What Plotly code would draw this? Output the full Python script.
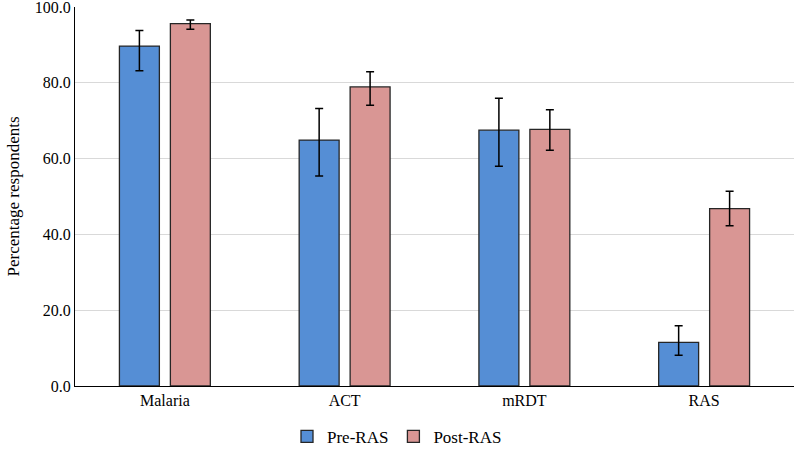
import plotly.graph_objects as go

categories = ["Malaria", "ACT", "mRDT", "RAS"]
pre_values = [89.7, 64.9, 67.5, 11.5]
pre_upper = [93.8, 73.2, 75.9, 15.9]
pre_lower = [83.2, 55.4, 58.0, 8.1]
post_values = [95.6, 78.9, 67.7, 46.8]
post_upper = [96.6, 82.9, 72.9, 51.4]
post_lower = [94.1, 74.1, 62.2, 42.3]
y_ticks = [0, 20, 40, 60, 80, 100]
y_tick_labels = ["0.0", "20.0", "40.0", "60.0", "80.0", "100.0"]

def err(vals, up, lo):
    return dict(
        type="data", symmetric=False,
        array=[u - v for u, v in zip(up, vals)],
        arrayminus=[v - l for v, l in zip(vals, lo)],
        color="black", thickness=1.5, width=4,
    )

fig = go.Figure()
fig.add_trace(go.Bar(
    x=categories, y=pre_values, name="Pre-RAS",
    marker=dict(color="#558ED5", line=dict(color="#262626", width=1.3)),
    error_y=err(pre_values, pre_upper, pre_lower),
))
fig.add_trace(go.Bar(
    x=categories, y=post_values, name="Post-RAS",
    marker=dict(color="#D99694", line=dict(color="#262626", width=1.3)),
    error_y=err(post_values, post_upper, post_lower),
))

font_family = "Liberation Serif, Times New Roman, serif"
fig.update_layout(
    width=794, height=449,
    margin=dict(l=75, r=0, t=7, b=63, autoexpand=False),
    paper_bgcolor="white", plot_bgcolor="white",
    barmode="group", bargap=0.433, bargroupgap=0.216,
    font=dict(family=font_family, size=16, color="black"),
    showlegend=True,
    legend=dict(
        orientation="h", xref="container", yref="container",
        x=0.5, xanchor="center", y=0.027, yanchor="middle",
        font=dict(family=font_family, size=17, color="black"),
        itemwidth=30, tracegroupgap=0,
    ),
)
fig.update_xaxes(
    showline=True, linecolor="black", linewidth=1.3,
    ticks="", showgrid=False, automargin=False,
    tickfont=dict(family=font_family, size=16),
)
fig.update_yaxes(
    range=[0, 100], tickvals=y_ticks, ticktext=y_tick_labels,
    showline=True, linecolor="black", linewidth=1.3,
    showgrid=True, gridcolor="#D9D9D9", gridwidth=1,
    ticks="", zeroline=False, automargin=False,
    ticklabeloverflow="allow",
    tickfont=dict(family=font_family, size=16),
    title=dict(text="Percentage respondents", font=dict(family=font_family, size=17), standoff=10),
)

fig.write_html(
    "out.html",
    config={"displayModeBar": False},
    post_script="document.body.style.margin='0px';",
)
